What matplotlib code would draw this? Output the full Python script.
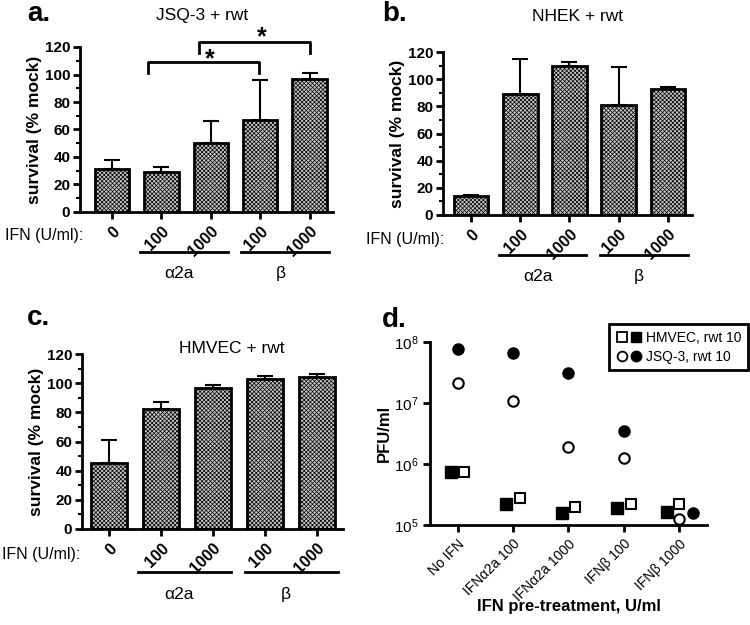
import matplotlib

matplotlib.use("Agg")
import matplotlib.pyplot as plt
import numpy as np
from matplotlib.legend_handler import HandlerTuple
from matplotlib.lines import Line2D
import matplotlib.transforms as mtransforms

plt.rcParams["font.family"] = ["Liberation Sans", "DejaVu Sans"]
plt.rcParams["hatch.linewidth"] = 0.5

# bar panels: mean survival (% mock) and upper error
doses = ["0", "100", "1000", "100", "1000"]
jsq3_mean = [31, 29, 50, 67, 97]
jsq3_err = [7, 4, 16, 29, 4]
nhek_mean = [14, 89, 110, 81, 93]
nhek_err = [0.5, 26, 3, 28, 1]
hmvec_mean = [45, 82, 97, 103, 104]
hmvec_err = [16, 5, 1.5, 2, 2.5]
groups = ["\u03b12a", "\u03b2"]

# panel d: PFU/ml
treatments = ["No IFN", "IFN\u03b12a 100", "IFN\u03b12a 1000", "IFN\u03b2 100", "IFN\u03b2 1000"]
hmvec_filled = [7.4e5, 2.2e5, 1.6e5, 1.9e5, 1.65e5]
hmvec_open = [7.4e5, 2.8e5, 2.0e5, 2.2e5, 2.2e5]
jsq_filled = [7.7e7, 6.6e7, 3.1e7, 3.5e6, 1.55e5]
jsq_open = [2.1e7, 1.08e7, 1.9e6, 1.26e6, 1.25e5]

fig = plt.figure(figsize=(7.5, 6.25), dpi=100)


def bar_panel(rect, means, errs, title, title_xy, xlim):
    ax = fig.add_axes(rect)
    x = np.arange(len(means))
    ax.bar(x, means, width=0.7, color="#c6c6c6", edgecolor="black",
           linewidth=2, hatch="xxxxxxxx", zorder=2)
    ax.errorbar(x, means, yerr=[np.zeros(len(errs)), errs], fmt="none",
                ecolor="black", elinewidth=1.5, capsize=6, capthick=1.5, zorder=1)
    ax.set_xlim(*xlim)
    ax.set_ylim(0, 120)
    ax.set_yticks(np.arange(0, 121, 20))
    ax.set_yticks(np.arange(0, 121, 10), minor=True)
    ax.set_xticks(x)
    ax.set_xticklabels(doses, rotation=45, ha="right", va="top",
                       rotation_mode="anchor", fontsize=11.5, fontweight="bold")
    for lab in ax.get_yticklabels():
        lab.set_fontweight("bold")
    ax.tick_params(axis="y", labelsize=11, width=2, length=5, pad=2)
    ax.tick_params(axis="y", which="minor", width=1.5, length=3)
    ax.tick_params(axis="x", width=2, length=5)
    for s in ["top", "right"]:
        ax.spines[s].set_visible(False)
    for s in ["left", "bottom"]:
        ax.spines[s].set_linewidth(2)
    ax.set_ylabel("survival (% mock)", fontsize=12.5, fontweight="bold", labelpad=2)
    trans = mtransforms.blended_transform_factory(ax.transData, ax.transAxes)
    ax.text(title_xy[0], title_xy[1], title, transform=trans,
            ha="center", va="center", fontsize=12.5)
    # group lines under the axis
    for (x0, x1), g in zip([(0.56, 2.34), (2.62, 4.4)], groups):
        ax.add_line(Line2D([x0, x1], [-0.245, -0.245], transform=trans, color="black",
                           lw=2, clip_on=False))
        ax.text((x0 + x1) / 2 - 0.1, -0.375, g, transform=trans, ha="center", va="center",
                fontsize=12.5)
    return ax


ax_a = bar_panel([0.1067, 0.6608, 0.337, 0.264], jsq3_mean, jsq3_err,
                 "JSQ-3 + rwt", (1.82, 1.19), (-0.65, 4.47))
ax_b = bar_panel([0.5907, 0.656, 0.332, 0.2608], nhek_mean, nhek_err,
                 "NHEK + rwt", (2.17, 1.215), (-0.57, 4.49))
ax_c = bar_panel([0.1093, 0.1536, 0.348, 0.28], hmvec_mean, hmvec_err,
                 "HMVEC + rwt", (2.37, 1.03), (-0.52, 4.5))

# significance brackets on panel a
for x0, x1, ytop, ybot, sx, sy in [(0.73, 2.97, 109, 101, 1.98, 102),
                                   (1.76, 4.0, 123.5, 116, 3.03, 118)]:
    ax_a.plot([x0, x0, x1, x1], [ybot, ytop, ytop, ybot], color="black", lw=2, clip_on=False)
    ax_a.text(sx, sy, "*", ha="center", va="bottom", fontsize=18,
              fontweight="bold", clip_on=False)

# panel d
ax_d = fig.add_axes([0.5733, 0.16, 0.3693, 0.2928])
xd = np.arange(len(treatments))
off_fsq = np.array([-0.12, -0.12, -0.12, -0.12, -0.22])
off_osq = np.array([0.12, 0.12, 0.12, 0.12, 0.0])
off_fci = np.array([0.0, 0.0, 0.0, 0.0, 0.24])
off_oci = np.array([0.0, 0.0, 0.0, 0.0, 0.0])
ax_d.plot(xd + off_fsq, hmvec_filled, "s", color="black", ms=8, ls="none", clip_on=False)
ax_d.plot(xd + off_osq, hmvec_open, "s", mfc="white", mec="black", mew=1.5, ms=7.5, ls="none", clip_on=False)
ax_d.plot(xd + off_fci, jsq_filled, "o", color="black", ms=8, ls="none", clip_on=False)
ax_d.plot(xd + off_oci, jsq_open, "o", mfc="white", mec="black", mew=1.5, ms=7.5, ls="none", clip_on=False)
ax_d.set_yscale("log")
ax_d.set_ylim(1e5, 1e8)
ax_d.set_xlim(-0.5, 4.5)
ax_d.set_yticks([1e5, 1e6, 1e7, 1e8])
ax_d.yaxis.set_minor_locator(matplotlib.ticker.NullLocator())
ax_d.set_xticks(xd)
ax_d.set_xticklabels(treatments, rotation=45, ha="right", va="top",
                     rotation_mode="anchor", fontsize=10)
ax_d.tick_params(axis="both", width=2, length=5, labelsize=10)
ax_d.tick_params(axis="y", labelsize=11)
for s in ["top", "right"]:
    ax_d.spines[s].set_visible(False)
for s in ["left", "bottom"]:
    ax_d.spines[s].set_linewidth(2)
ax_d.set_ylabel("PFU/ml", fontsize=12, fontweight="bold", labelpad=1)
fig.text(ax_d.get_position().x0 + ax_d.get_position().width / 2, 1 - 607 / 625,
         "IFN pre-treatment, U/ml", fontsize=12, fontweight="bold", ha="center", va="center")

h_osq = Line2D([], [], marker="s", mfc="white", mec="black", mew=1.3, ms=7, ls="none")
h_fsq = Line2D([], [], marker="s", color="black", ms=7.5, ls="none")
h_oci = Line2D([], [], marker="o", mfc="white", mec="black", mew=1.3, ms=7, ls="none")
h_fci = Line2D([], [], marker="o", color="black", ms=7.5, ls="none")
leg = ax_d.legend([(h_osq, h_fsq), (h_oci, h_fci)], ["HMVEC, rwt 10", "JSQ-3, rwt 10"],
                  handler_map={tuple: HandlerTuple(ndivide=None, pad=0.1)},
                  loc="upper right", bbox_to_anchor=(0.997, 0.481),
                  bbox_transform=fig.transFigure, fontsize=10, fancybox=False,
                  edgecolor="black", framealpha=1, handlelength=1.9, handletextpad=0.3,
                  borderpad=0.45, labelspacing=0.4, borderaxespad=0)
leg.get_frame().set_linewidth(2)

# IFN labels and panel letters
fig.text(5 / 750, 1 - 236 / 625, "IFN (U/ml):", fontsize=11.5, va="center", ha="left")
fig.text(366 / 750, 1 - 239 / 625, "IFN (U/ml):", fontsize=11.5, va="center", ha="left")
fig.text(2 / 750, 1 - 555 / 625, "IFN (U/ml):", fontsize=11.5, va="center", ha="left")
for lx, ly, t in [(27, 14, "a."), (382, 14, "b."), (27, 318, "c."), (382, 320, "d.")]:
    fig.text(lx / 750, 1 - ly / 625, t, fontsize=20, fontweight="bold", va="center", ha="left")

fig.savefig("out.png", dpi=100)
